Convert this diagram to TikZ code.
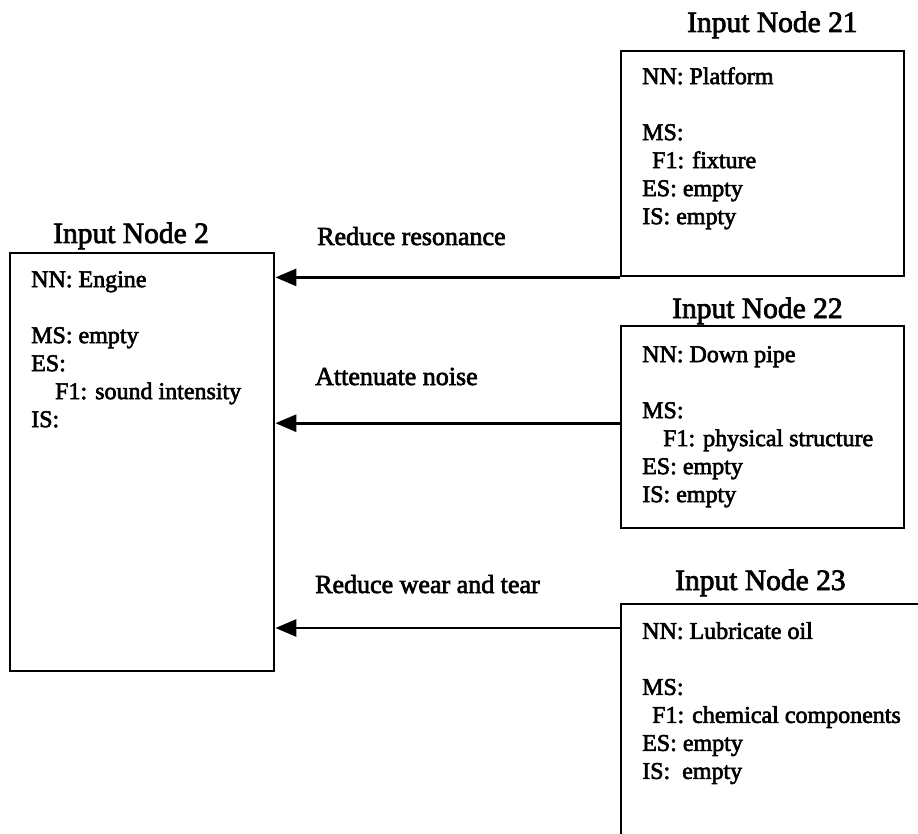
\documentclass[tikz,border=0pt]{standalone}
\usepackage{fontspec}
\setmainfont[FakeBold=2.5]{Liberation Serif}
\usetikzlibrary{arrows.meta,positioning}

\begin{document}
\begin{tikzpicture}[x=1pt,y=-1pt,>={Triangle[length=21pt,width=17pt]},
  box/.style={draw,line width=2.4pt,inner sep=0pt,anchor=north west},
  boxtext/.style={anchor=north west,inner sep=0pt,align=left,font=\fontsize{24}{28}\selectfont},
  title/.style={anchor=base west,inner sep=0pt,font=\fontsize{29.5}{34}\selectfont},
  lbl/.style={anchor=base west,inner sep=0pt,font=\fontsize{26}{30}\selectfont},
  link/.style={->,line width=2.8pt}]
\useasboundingbox (0,0) rectangle (918,834);
\clip (0,0) rectangle (918,834);

% node boxes
\node[box,minimum width=264pt,minimum height=418pt] (n2) at (9,252) {};
\node[box,minimum width=283pt,minimum height=225pt] (n21) at (620,50) {};
\node[box,minimum width=283pt,minimum height=202pt] (n22) at (620,325) {};
\node[box,minimum width=320pt,minimum height=245pt] (n23) at (620,603) {};

% titles
\node[title] (t2) at (53,243) {Input Node 2};
\node[title] (t21) at (687,32) {Input Node 21};
\node[title] (t22) at (672,318) {Input Node 22};
\node[title] (t23) at (675,590) {Input Node 23};

% contents
\node[boxtext] (n2txt) at (31,271) {NN: Engine\\[28pt]MS: empty\\ES:\\\hspace*{24pt}F1: sound intensity\\IS:};
\node[boxtext] (n21txt) at (642,67) {NN: Platform\\[28pt]MS:\\\hspace*{10pt}F1: fixture\\ES: empty\\IS: empty};
\node[boxtext] (n22txt) at (642,346) {NN: Down pipe\\[28pt]MS:\\\hspace*{21pt}F1: physical structure\\ES: empty\\IS: empty};
\node[boxtext] (n23txt) at (642,622) {NN: Lubricate oil\\[28pt]MS:\\\hspace*{10pt}F1: chemical components\\ES: empty\\IS:\hspace{6pt} empty};

% links
\coordinate (c22) at ([yshift=4pt]n22.west);
\coordinate (c23) at ([yshift=-25pt]n23.north west);
\draw[link] (n21.south west) -- (n21.south west -| n2.east);
\draw[link] (c22) -- (c22 -| n2.east);
\draw[link] (c23) -- (c23 -| n2.east);
\node[lbl] (l21) at (317,245) {Reduce resonance};
\node[lbl] (l22) at (315,385) {Attenuate noise};
\node[lbl] (l23) at (315,593) {Reduce wear and tear};
\end{tikzpicture}
\end{document}
